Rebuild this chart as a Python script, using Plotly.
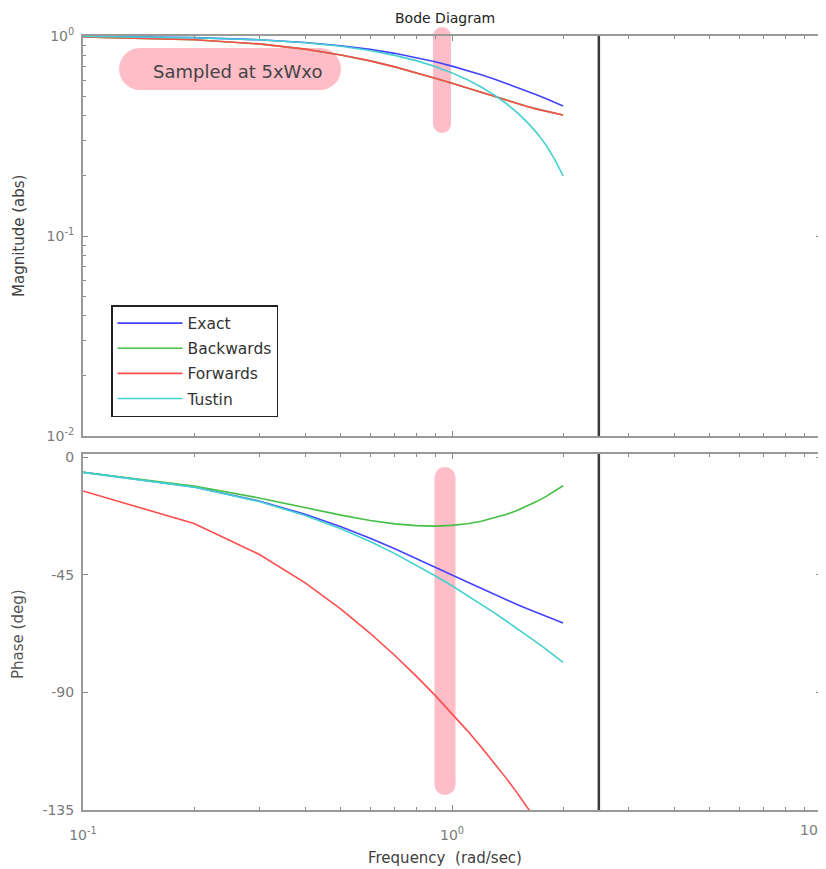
import plotly.graph_objects as go

# ---------------- data ----------------
freq = [0.1, 0.2, 0.3, 0.4, 0.5, 0.6, 0.7, 0.8, 0.9, 1.0,
        1.1, 1.2, 1.3, 1.4, 1.5, 1.6, 1.7, 1.8, 1.9, 2.0]

exact_mag = [0.995, 0.981, 0.958, 0.928, 0.894, 0.857, 0.819, 0.781, 0.743, 0.707,
             0.673, 0.640, 0.610, 0.581, 0.555, 0.530, 0.507, 0.486, 0.466, 0.447]
exact_phase = [-5.71, -11.31, -16.70, -21.80, -26.57, -30.96, -34.99, -38.66, -41.99, -45.00,
               -47.73, -50.19, -52.43, -54.46, -56.31, -57.99, -59.53, -60.95, -62.24, -63.43]

back_mag = [0.989, 0.958, 0.913, 0.860, 0.804, 0.751, 0.701, 0.656, 0.615, 0.580,
            0.549, 0.521, 0.498, 0.477, 0.459, 0.444, 0.431, 0.420, 0.410, 0.403]
back_phase = [-5.66, -10.93, -15.51, -19.24, -22.10, -24.14, -25.45, -26.13, -26.30, -26.03,
              -25.40, -24.46, -23.28, -21.90, -20.34, -18.64, -16.82, -14.91, -12.91, -10.85]

fwd_mag = [0.989, 0.958, 0.913, 0.860, 0.804, 0.751, 0.701, 0.656, 0.615, 0.580,
           0.549, 0.521, 0.498, 0.477, 0.459, 0.444, 0.431, 0.420, 0.410, 0.403]
fwd_phase = [-12.86, -25.33, -37.11, -48.04, -58.10, -67.34, -75.85, -83.73, -91.10, -98.03,
             -104.60, -110.86, -116.88, -122.70, -128.34, -133.84, -139.22, -144.51, -149.71, -154.85]

tust_mag = [0.995, 0.980, 0.957, 0.926, 0.888, 0.846, 0.800, 0.753, 0.704, 0.654,
            0.605, 0.556, 0.508, 0.461, 0.415, 0.370, 0.327, 0.284, 0.241, 0.200]
tust_phase = [-5.72, -11.37, -16.89, -22.23, -27.34, -32.22, -36.83, -41.18, -45.29, -49.15,
              -52.78, -56.21, -59.46, -62.54, -65.46, -68.26, -70.94, -73.53, -76.03, -78.46]

series_names = ["Exact", "Backwards", "Forwards", "Tustin"]
nyquist_freq = 2.5

x_major = [0.1, 1]
x_major_text = ["10<sup>-1</sup>", "10<sup>0</sup>"]
x_end_label = "10<sup>1</sup>"       # label of the right end of the frequency axis
x_minor = [0.2, 0.3, 0.4, 0.5, 0.6, 0.7, 0.8, 0.9, 2, 3, 4, 5, 6, 7, 8, 9]
mag_major = [0.01, 0.1, 1]
mag_major_text = ["10<sup>-2</sup>", "10<sup>-1</sup>", "10<sup>0</sup>"]
mag_minor = [0.02, 0.03, 0.04, 0.05, 0.06, 0.07, 0.08, 0.09,
             0.2, 0.3, 0.4, 0.5, 0.6, 0.7, 0.8, 0.9]
phase_tickvals = [-135, -90, -45, 0]
phase_ticktext = ["-135", "-90", "-45", "0"]

# ---------------- style ----------------
colors = ["#4444ff", "#44c044", "#ff4c4c", "#44d0d0"]
FONT = "DejaVu Sans"
WIN_W, WIN_H = 826, 869
OFF_X, OFF_Y = 0, 8             # page offset observed in the browser
FIG_W, FIG_H = WIN_W - OFF_X, WIN_H - OFF_Y
L, R, T, B = 75, 813, 36, 810   # plot area in window pixels
PW, PH = R - L, B - T


def px(x):
    return (x - L) / PW


def py(y):
    return (B - y) / PH


fig = go.Figure()
mags = [exact_mag, back_mag, fwd_mag, tust_mag]
phases = [exact_phase, back_phase, fwd_phase, tust_phase]
for i, name in enumerate(series_names):
    fig.add_trace(go.Scatter(x=freq, y=mags[i], mode="lines", name=name,
                             line=dict(color=colors[i], width=1.6),
                             xaxis="x", yaxis="y", legendgroup=name, showlegend=True))
for i, name in enumerate(series_names):
    fig.add_trace(go.Scatter(x=freq, y=phases[i], mode="lines", name=name,
                             line=dict(color=colors[i], width=1.6),
                             xaxis="x2", yaxis="y2", legendgroup=name, showlegend=False))

TICK_COLOR_TXT = "#7a7a7a"
axis_common = dict(showline=True, linecolor="#9a9a9a", linewidth=2, mirror="ticks",
                   ticks="inside", ticklen=5, tickwidth=1, tickcolor="#8a8a8a",
                   showgrid=False, zeroline=False,
                   tickfont=dict(family=FONT, size=14, color=TICK_COLOR_TXT))
minor_x = dict(tickmode="array", tickvals=x_minor, ticks="inside", ticklen=3,
               tickwidth=1, tickcolor="#8a8a8a", showgrid=False)
minor_mag = dict(tickmode="array", tickvals=mag_minor, ticks="inside", ticklen=3,
                 tickwidth=1, tickcolor="#8a8a8a", showgrid=False)

fig.update_layout(
    width=FIG_W, height=FIG_H,
    margin=dict(l=L - OFF_X, r=WIN_W - R, t=T - OFF_Y, b=WIN_H - B),
    paper_bgcolor="white", plot_bgcolor="white",
    font=dict(family=FONT, color="#404040"),
    xaxis=dict(type="log", range=[-1, 1], domain=[0, 1], anchor="y",
               tickmode="array", tickvals=x_major, ticktext=x_major_text,
               showticklabels=False, minor=minor_x, **axis_common),
    yaxis=dict(type="log", range=[-2, 0], domain=[py(436), 1], anchor="x",
               tickmode="array", tickvals=mag_major, ticktext=mag_major_text,
               ticklabelstandoff=4, minor=minor_mag, **axis_common),
    xaxis2=dict(type="log", range=[-1, 1], domain=[0, 1], anchor="y2", matches="x",
                tickmode="array", tickvals=x_major, ticktext=x_major_text,
                ticklabelstandoff=11, minor=minor_x, **axis_common),
    yaxis2=dict(range=[-135, 1.3], domain=[0, py(454)], anchor="x2",
                tickmode="array", tickvals=phase_tickvals, ticktext=phase_ticktext,
                ticklabelstandoff=4, **axis_common),
    legend=dict(x=px(103), y=py(305), xanchor="left", yanchor="top",
                bgcolor="white", bordercolor="#222222", borderwidth=1.5,
                font=dict(family=FONT, size=15.5, color="#333333"),
                itemwidth=65, tracegroupgap=2, traceorder="grouped"),
    showlegend=True,
)

pink = "#ffbdc7"
shapes = []


def stadium_h(x0, x1, yc, r):
    shapes.append(dict(type="rect", xref="paper", yref="paper", layer="below",
                       x0=px(x0 + r), x1=px(x1 - r), y0=py(yc + r), y1=py(yc - r),
                       fillcolor=pink, line=dict(width=0)))
    for cx in (x0 + r, x1 - r):
        shapes.append(dict(type="circle", xref="paper", yref="paper", layer="below",
                           x0=px(cx - r), x1=px(cx + r), y0=py(yc + r), y1=py(yc - r),
                           fillcolor=pink, line=dict(width=0)))


def stadium_v(xc, y0, y1, r):
    shapes.append(dict(type="rect", xref="paper", yref="paper", layer="below",
                       x0=px(xc - r), x1=px(xc + r), y0=py(y1 - r), y1=py(y0 + r),
                       fillcolor=pink, line=dict(width=0)))
    for cy in (y0 + r, y1 - r):
        shapes.append(dict(type="circle", xref="paper", yref="paper", layer="below",
                           x0=px(xc - r), x1=px(xc + r), y0=py(cy + r), y1=py(cy - r),
                           fillcolor=pink, line=dict(width=0)))


stadium_h(111, 333, 69, 21)
stadium_v(434, 27, 133, 9)
stadium_v(437, 467, 795, 10.5)

for xa, ya in (("x", "y domain"), ("x2", "y2 domain")):
    shapes.append(dict(type="line", xref=xa, yref=ya, x0=nyquist_freq, x1=nyquist_freq,
                       y0=0, y1=1, line=dict(color="#3a3a3a", width=2.5), layer="above"))
fig.update_layout(shapes=shapes)

annotations = [
    dict(text="Bode Diagram", x=px(437), y=py(18), font=dict(size=14, color="#222222")),
    dict(text="Sampled at 5xWxo", x=px(229), y=py(72), font=dict(size=18, color="#444444")),
    dict(text="Frequency  (rad/sec)", x=px(437), y=py(858), font=dict(size=15, color="#404040")),
    dict(text="Magnitude (abs)", x=px(11), y=py(236), textangle=-90,
         font=dict(size=15, color="#404040")),
    dict(text="Phase (deg)", x=px(10), y=py(634), textangle=-90,
         font=dict(size=15, color="#555555")),
    dict(text=x_end_label, x=px(818), y=py(818), xanchor="right", yanchor="top",
         font=dict(size=14, color=TICK_COLOR_TXT)),
]
for a in annotations:
    a.setdefault("xanchor", "center")
    a.setdefault("yanchor", "middle")
    a.update(xref="paper", yref="paper", showarrow=False)
    a["font"]["family"] = FONT
fig.update_layout(annotations=annotations)

fig.write_html("out.html")
